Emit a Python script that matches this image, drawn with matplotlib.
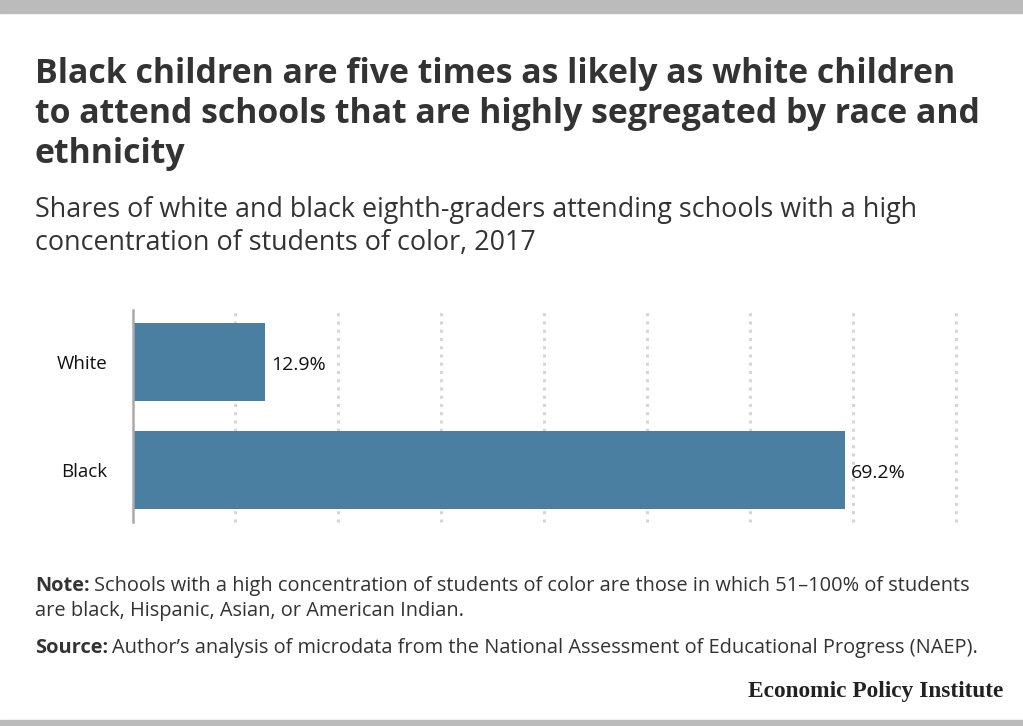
import matplotlib.pyplot as plt
from matplotlib.patches import Rectangle

# ============================
# DATA
# ============================
categories = ["White", "Black"]
shares = [12.9, 69.2]
x_max = 80
grid_ticks = [0, 10, 20, 30, 40, 50, 60, 70, 80]

title_lines = [
    "Black children are five times as likely as white children",
    "to attend schools that are highly segregated by race and",
    "ethnicity",
]
subtitle_lines = [
    "Shares of white and black eighth-graders attending schools with a high",
    "concentration of students of color, 2017",
]
note_line1 = "Schools with a high concentration of students of color are those in which 51\u2013100% of students"
note_line2 = "are black, Hispanic, Asian, or American Indian."
source_text = "Author\u2019s analysis of microdata from the National Assessment of Educational Progress (NAEP)."

# ============================
# STYLE
# ============================
W, H = 1023, 726
FONT = "Open Sans"
BAR_COLOR = "#4a7fa1"
TEXT_COLOR = "#333333"

fig = plt.figure(figsize=(W / 100, H / 100), dpi=100)
fig.patch.set_facecolor("white")


def fy(px):
    # pixel from top -> figure fraction
    return 1 - px / H


def fx(px):
    return px / W


# gray bands top & bottom
fig.patches.append(Rectangle((0, fy(13)), 1, 13 / H, transform=fig.transFigure,
                             color="#bbbbbb", zorder=0))
fig.patches.append(Rectangle((0, 0), 1, 6 / H, transform=fig.transFigure,
                             color="#bbbbbb", zorder=0))

# title
for i, line in enumerate(title_lines):
    fig.text(fx(35), fy(83 + 40 * i), line, fontsize=24.4, fontweight="bold",
             family=FONT, color=TEXT_COLOR, va="baseline", ha="left")

# subtitle
for i, line in enumerate(subtitle_lines):
    fig.text(fx(35), fy(217 + 33 * i), line, fontsize=19.4,
             family=FONT, color=TEXT_COLOR, va="baseline", ha="left")

# ============================
# BARS
# ============================
ax = fig.add_axes([fx(132.5), fy(522), fx(956 - 132.5), (522 - 310) / H])
y = list(range(len(categories)))
ax.barh(y, shares, height=0.72, color=BAR_COLOR, zorder=3)
ax.set_xlim(0, x_max)
ax.set_ylim(1.48, -0.48)

for t in grid_ticks[1:]:
    ax.axvline(t, color="#d6d6d6", lw=2.2, linestyle=(0, (1, 1.7)), zorder=1,
               clip_on=False)
ax.axvline(0, color="#aaaaaa", lw=1.8, zorder=4, clip_on=False)

for yi, v in zip(y, shares):
    ax.annotate(f"{v:.1f}%", (v, yi), xytext=(6, -3), textcoords="offset pixels",
                va="center", ha="left", fontsize=14, family=FONT, color="#111111")

ax.set_yticks(y)
ax.set_yticklabels(categories, fontsize=13.5, family=FONT, color="#111111")
ax.tick_params(axis="y", length=0, pad=18)
ax.set_xticks([])
for s in ax.spines.values():
    s.set_visible(False)

# ============================
# NOTES
# ============================
NOTE_FS = 14.4
note_b = fig.text(fx(35), fy(591), "Note:", fontsize=NOTE_FS, fontweight="bold",
                  family=FONT, color=TEXT_COLOR, va="baseline")
fig.canvas.draw()
r = fig.canvas.get_renderer()
bb = note_b.get_window_extent(r)
fig.text(fx(bb.x1 + 4), fy(591), note_line1, fontsize=NOTE_FS, family=FONT,
         color=TEXT_COLOR, va="baseline")
fig.text(fx(35), fy(616), note_line2, fontsize=NOTE_FS, family=FONT,
         color=TEXT_COLOR, va="baseline")

src_b = fig.text(fx(35), fy(653), "Source:", fontsize=NOTE_FS, fontweight="bold",
                 family=FONT, color=TEXT_COLOR, va="baseline")
bb = src_b.get_window_extent(r)
fig.text(fx(bb.x1 + 4), fy(653), source_text, fontsize=NOTE_FS, family=FONT,
         color=TEXT_COLOR, va="baseline")

fig.text(fx(1003), fy(697), "Economic Policy Institute", fontsize=16.8,
         fontweight="bold", family="Liberation Serif", color="#222222",
         ha="right", va="baseline")

fig.savefig("out.png", dpi=100)
